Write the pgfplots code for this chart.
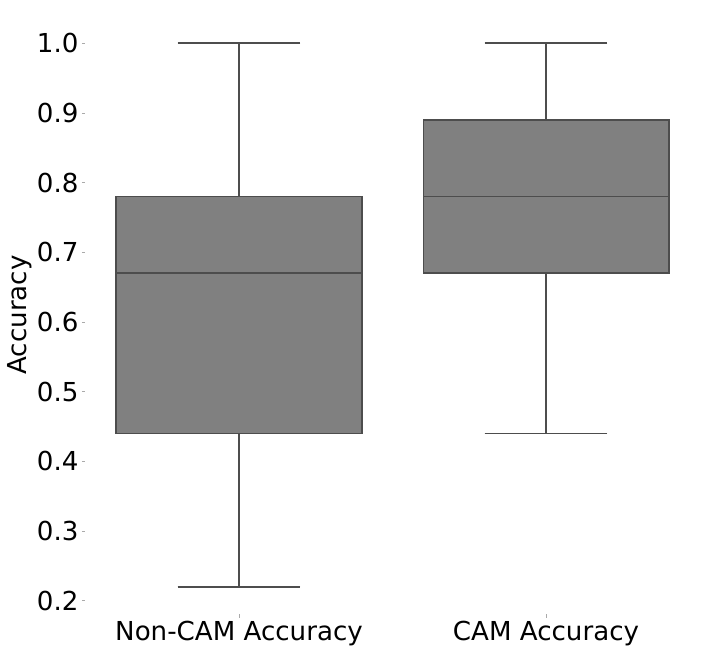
\documentclass[border=0pt]{standalone}
\usepackage{fontspec}
\setmainfont{DejaVu Sans}
\usepackage{pgfplots}
\pgfplotsset{compat=1.18}
\usepgfplotslibrary{statistics}
\definecolor{boxfill}{RGB}{128,128,128}
\definecolor{boxedge}{RGB}{77,77,77}
\definecolor{tickc}{RGB}{170,170,170}
\begin{document}
\begin{tikzpicture}
\begin{axis}[
  scale only axis,
  width=614bp, height=598bp,
  xmin=-0.5, xmax=1.5,
  ymin=0.181, ymax=1.039,
  axis line style={draw=none},
  tick align=outside,
  xtick pos=bottom, ytick pos=left,
  major tick length=3.5bp,
  tick style={tickc, line width=0.6bp},
  xtick={0,1},
  xticklabels={Non-CAM Accuracy, CAM Accuracy},
  ytick={0.2,0.3,0.4,0.5,0.6,0.7,0.8,0.9,1.0},
  yticklabel style={/pgf/number format/fixed, /pgf/number format/fixed zerofill, /pgf/number format/precision=1},
  /pgf/number format/assume math mode=true,
  ticklabel style={font=\fontsize{26.2}{31}\selectfont, text=black},
  xticklabel style={yshift=-0.5bp},
  ylabel={Accuracy},
  ylabel style={font=\fontsize{26.2}{31}\selectfont, yshift=-2bp},
  boxplot/draw direction=y,
  boxplot/every box/.style={fill=boxfill, draw=boxedge, line width=1.4bp},
  boxplot/every median/.style={draw=boxedge, line width=1.4bp},
  boxplot/every whisker/.style={draw=boxedge, line width=1.4bp},
  clip=false,
]
\addplot[fill=boxfill, draw=boxedge, line width=1.4bp,
  boxplot prepared={lower whisker=0.22, lower quartile=0.44, median=0.67,
    upper quartile=0.78, upper whisker=1.0, draw position=0,
    box extend=0.8, whisker extend=0.4}] coordinates {};
\addplot[fill=boxfill, draw=boxedge, line width=1.4bp,
  boxplot prepared={lower whisker=0.44, lower quartile=0.67, median=0.78,
    upper quartile=0.89, upper whisker=1.0, draw position=1,
    box extend=0.8, whisker extend=0.4}] coordinates {};
\end{axis}
\path (current axis.south west) ++(-85.5bp,-41bp) coordinate (bbsw);
\path (current axis.north east) ++(2.5bp,16bp) coordinate (bbne);
\path (bbsw) rectangle (bbne);
\end{tikzpicture}
\end{document}
